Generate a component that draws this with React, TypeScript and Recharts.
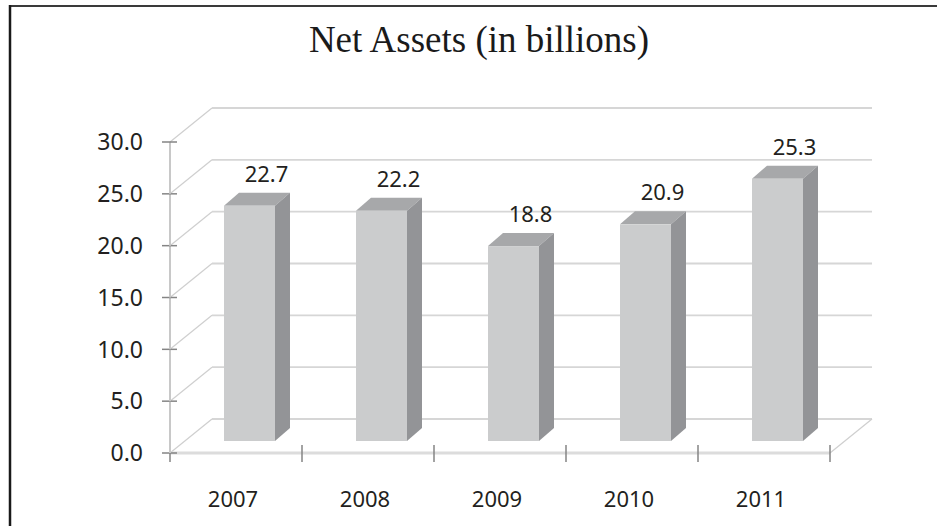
import React from 'react';
import { BarChart, Bar, XAxis, YAxis, CartesianGrid, LabelList } from 'recharts';

const years = ['2007', '2008', '2009', '2010', '2011'];
const netAssets = [22.7, 22.2, 18.8, 20.9, 25.3];
const yTicks = [0, 5, 10, 15, 20, 25, 30];

const data = years.map((year, i) => ({ year, value: netAssets[i] }));

// layout of the fake 3D box (px)
const W = 937;
const H = 526;
const PLOT = { left: 183, right: 843, top: 130, bottom: 441 };
const FRONT = { dx: -13, dy: 12 };
const BACK = { dx: 29, dy: -22 };
const DEPTH = { dx: 15, dy: 13 };
const Y_AXIS_W = 60;
const X_AXIS_H = 30;

const SANS = '"Noto Sans", "Open Sans", sans-serif';
const INK = '#231f20';

const gridLine = (p: any) => {
  const y = p.y1;
  const isFloor = Math.abs(y - PLOT.bottom) < 1;
  const fx0 = PLOT.left + FRONT.dx;
  const fx1 = PLOT.right + FRONT.dx;
  const fy = y + FRONT.dy;
  const bx0 = PLOT.left + BACK.dx;
  const bx1 = PLOT.right + BACK.dx;
  const by = y + BACK.dy;
  return (
    <g key={p.key}>
      <line x1={fx0} y1={fy} x2={bx0} y2={by} stroke="#cfcfcf" strokeWidth={1.2} />
      <line x1={bx0} y1={by} x2={bx1} y2={by} stroke="#d6d6d6" strokeWidth={1.8} />
      {isFloor && (
        <>
          <line x1={fx0} y1={fy} x2={fx1} y2={fy} stroke="#dcdcdc" strokeWidth={3} />
          <line x1={fx1} y1={fy} x2={bx1} y2={by} stroke="#cfcfcf" strokeWidth={1.2} />
        </>
      )}
    </g>
  );
};

const YTick = (p: any) => {
  const v = p.payload.value;
  const y = p.y + FRONT.dy;
  const ax = PLOT.left + FRONT.dx;
  const step = (PLOT.bottom - PLOT.top) / (yTicks.length - 1);
  return (
    <g>
      {v > 0 && <line x1={ax} y1={y} x2={ax} y2={y + step} stroke="#c8c8c8" strokeWidth={2} />}
      <line x1={ax - 8} y1={y} x2={ax + 7} y2={y} stroke="#858585" strokeWidth={1.5} />
      <text x={ax - 27} y={y} dy="0.36em" textAnchor="end" fontFamily={SANS} fontSize={23} fill={INK}>
        {Number(v).toFixed(1)}
      </text>
    </g>
  );
};

const XTick = (p: any) => {
  const band = (PLOT.right - PLOT.left) / years.length;
  const cx = p.x + FRONT.dx;
  const fy = PLOT.bottom + FRONT.dy;
  const left = cx - band / 2;
  const idx = p.index ?? p.payload?.index ?? 0;
  return (
    <g>
      <line x1={left} y1={fy - 8} x2={left} y2={fy + 9} stroke="#858585" strokeWidth={1.5} />
      {idx === years.length - 1 && (
        <line x1={left + band} y1={fy - 8} x2={left + band} y2={fy + 9} stroke="#858585" strokeWidth={1.5} />
      )}
      <text x={cx - 3} y={fy + 54} textAnchor="middle" fontFamily={SANS} fontSize={22} fill={INK}>
        {p.payload.value}
      </text>
    </g>
  );
};

const Bar3D = (p: any) => {
  const { x, y, width: w, height: h } = p;
  const { dx, dy } = DEPTH;
  return (
    <g>
      <polygon points={`${x},${y} ${x + dx},${y - dy} ${x + w + dx},${y - dy} ${x + w},${y}`} fill="#a7a8aa" />
      <polygon
        points={`${x + w},${y} ${x + w + dx},${y - dy} ${x + w + dx},${y + h - dy} ${x + w},${y + h}`}
        fill="#939497"
      />
      <rect x={x} y={y} width={w} height={h} fill="#cbcccd" />
    </g>
  );
};

const ValueLabel = (p: any) => {
  const { x, y, width, value } = p;
  return (
    <text x={x + width / 2 + 17} y={y - 24} textAnchor="middle" fontFamily={SANS} fontSize={22} fill={INK}>
      {Number(value).toFixed(1)}
    </text>
  );
};

export default function App() {
  return (
    <div style={{ position: 'relative', width: W, height: H, background: '#fff' }}>
      <style>{'body{margin:0}'}</style>
      <BarChart
        width={W}
        height={H}
        data={data}
        margin={{
          top: PLOT.top,
          right: W - PLOT.right,
          bottom: H - PLOT.bottom - X_AXIS_H,
          left: PLOT.left - Y_AXIS_W,
        }}
      >
        <CartesianGrid vertical={false} horizontal={gridLine} />
        <XAxis dataKey="year" height={X_AXIS_H} axisLine={false} tickLine={false} tick={XTick} interval={0} />
        <YAxis
          width={Y_AXIS_W}
          domain={[0, 30]}
          ticks={yTicks}
          axisLine={false}
          tickLine={false}
          tick={YTick}
          interval={0}
        />
        <Bar dataKey="value" barSize={51} shape={Bar3D} isAnimationActive={false}>
          <LabelList dataKey="value" content={ValueLabel} />
        </Bar>
      </BarChart>
      <svg width={W} height={H} style={{ position: 'absolute', left: 0, top: 0, pointerEvents: 'none' }}>
        <line x1={10} y1={6} x2={W} y2={6} stroke="#3a3a3a" strokeWidth={2} />
        <line x1={10} y1={5} x2={10} y2={H} stroke="#1a1a1a" strokeWidth={2.5} />
        <text x={479} y={52} textAnchor="middle" fontFamily='"Liberation Serif", "Times New Roman", serif' fontSize={37} fill="#1a1a1a">
          Net Assets (in billions)
        </text>
      </svg>
    </div>
  );
}
